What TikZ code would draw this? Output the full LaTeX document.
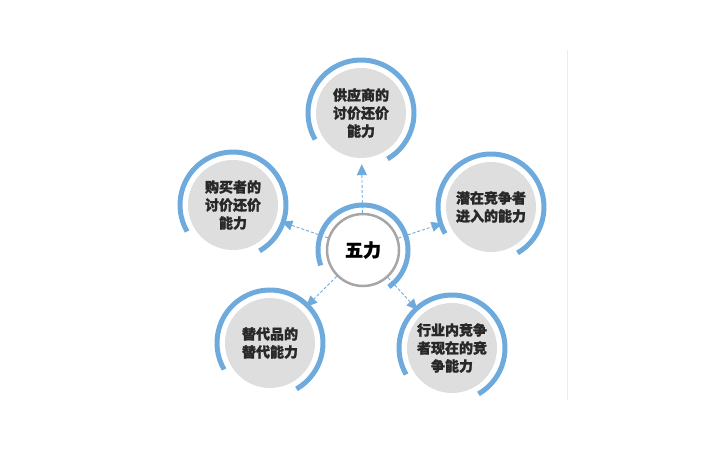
\documentclass[tikz,border=0pt]{standalone}
\usepackage{fontspec}
\setmainfont{Noto Sans CJK SC}[FakeBold=1.5]
\usetikzlibrary{arrows.meta}
\definecolor{arcblue}{RGB}{110,170,220}
\definecolor{fillgray}{RGB}{222,222,222}
\definecolor{txt}{RGB}{40,40,40}
\tikzset{
  outer/.style={circle,fill=fillgray,minimum size=90pt,inner sep=0pt,align=center,font=\bfseries\fontsize{14pt}{18pt}\selectfont,text=txt},
  ctr/.style={circle,fill=white,draw=gray!70,line width=2.5pt,minimum size=72pt,inner sep=0pt,font=\bfseries\fontsize{18pt}{20pt}\selectfont,text=black},
  conn/.style={arcblue,densely dashed,line width=0.9pt,-{Triangle[length=11pt,width=10pt]},shorten >=6pt},
  blarc/.style={arcblue,line width=5pt}
}
\begin{document}
\begin{tikzpicture}[x=1pt,y=-1pt]
\useasboundingbox (0,0) rectangle (720,450);
\draw[gray!15,line width=1pt] (567,50) -- (567,400);
\node[outer] (t) at (361,113) {供应商的\\讨价还价\\能力};
\node[outer] (l) at (233,205) {购买者的\\讨价还价\\能力};
\node[outer] (r) at (491,207) {潜在竞争者\\进入的能力};
\node[outer] (bl) at (270,343) {替代品的\\替代能力};
\node[outer] (br) at (452,348) {行业内竞争\\者现在的竞\\争能力};
\node[ctr] (c) at (363,250) {五力};
\foreach \n in {t,l,r,bl,br}{
  \draw[blarc] (\n.center) ++(150:53) arc[start angle=150,end angle=420,radius=53];
}
\draw[blarc] (c.center) ++(160:45) arc[start angle=160,end angle=415,radius=45];
\foreach \n in {t,l,r,bl,br}{
  \draw[conn] (c) -- (\n);
}
\end{tikzpicture}
\end{document}
